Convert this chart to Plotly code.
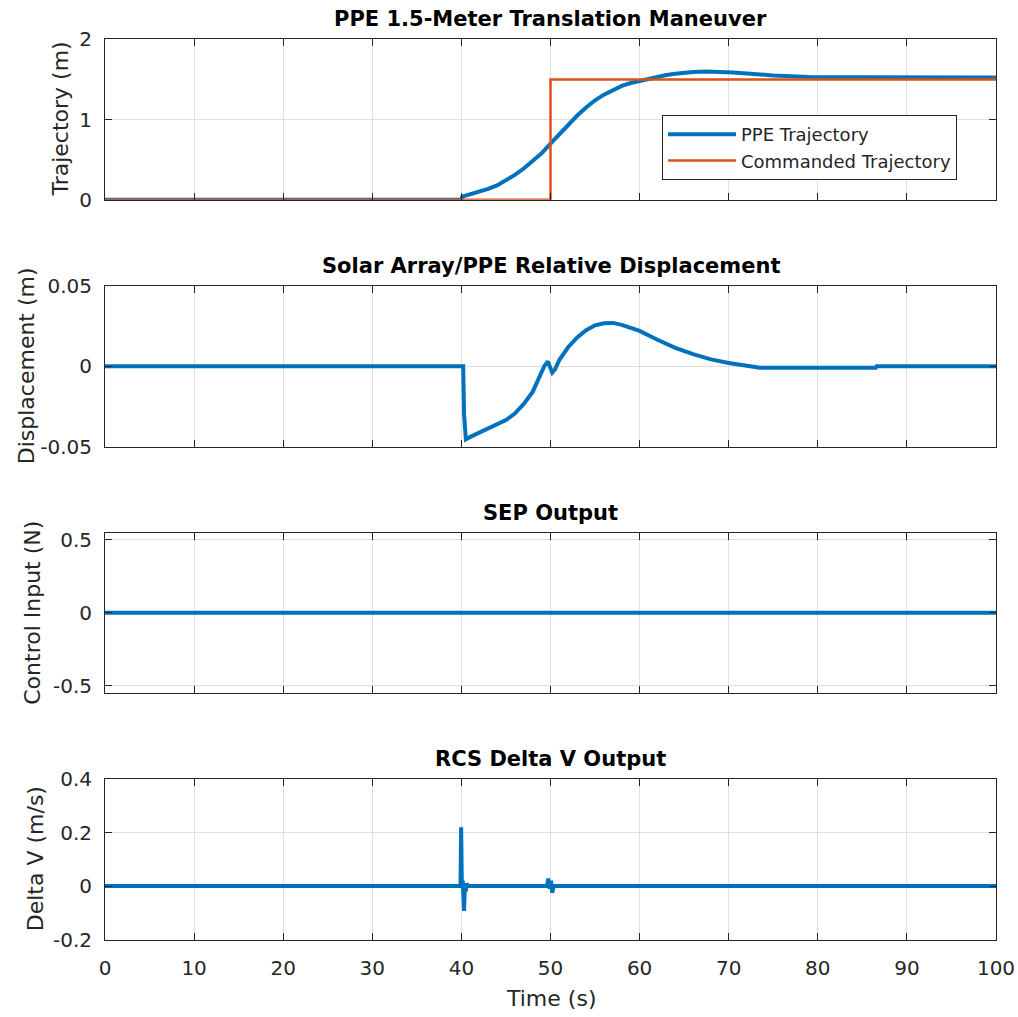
import plotly.graph_objects as go

# ---- data -------------------------------------------------------------
# PPE position during the 1.5 m translation (s, m)
ppe_time = [0, 40.0, 40.1, 41, 42, 43, 44, 45, 46, 47, 48, 49, 50, 51, 52, 53, 54, 55,
            56, 57, 58, 59, 60, 61, 62, 63, 64, 65, 66, 67.5, 69, 70.5, 72, 73.5, 75,
            77, 79, 85, 100]
ppe_pos = [0, 0, 0.04, 0.07, 0.10, 0.135, 0.18, 0.24, 0.31, 0.39, 0.48, 0.58, 0.70,
           0.82, 0.94, 1.05, 1.15, 1.24, 1.31, 1.37, 1.42, 1.455, 1.48, 1.51, 1.535,
           1.555, 1.57, 1.585, 1.593, 1.598, 1.595, 1.585, 1.575, 1.56, 1.55, 1.54,
           1.53, 1.527, 1.525]

# commanded step (s, m)
cmd_time = [0, 50, 50, 100]
cmd_pos = [0, 0, 1.5, 1.5]

# solar array relative displacement (s, m)
disp_time = [0, 40.2, 40.3, 40.5, 41, 42, 43, 44, 45, 46, 47, 48, 48.7, 49.3, 49.7,
             50.0, 50.2, 50.5, 51, 52, 53, 54, 55, 56, 57, 58, 59, 60, 62, 64, 66, 68,
             70, 72, 73.5, 86.5, 86.6, 100]
disp_val = [0, 0, -0.03, -0.0455, -0.044, -0.0415, -0.039, -0.0365, -0.0335, -0.0295,
            -0.0235, -0.016, -0.008, 0.0, 0.003, -0.002, -0.004, -0.002, 0.004, 0.012,
            0.018, 0.0225, 0.0255, 0.0268, 0.027, 0.0258, 0.024, 0.022, 0.0165, 0.0115,
            0.0075, 0.0043, 0.002, 0.0002, -0.001, -0.001, 0, 0]

# SEP thrust command (s, N)
sep_time = [0, 100]
sep_val = [0, 0]

# RCS delta-V pulses (s, m/s)
rcs_time = [0, 39.9, 39.97, 40.05, 40.15, 40.3, 40.4, 40.5, 40.6, 40.7,
            49.6, 49.75, 49.9, 50.05, 50.2, 50.35, 100]
rcs_val = [0, 0, 0.22, 0, 0.02, -0.093, 0.01, -0.02, 0.01, 0,
           0, 0.028, -0.01, 0.02, -0.025, 0, 0]

# axis ticks
time_ticks = [0, 10, 20, 30, 40, 50, 60, 70, 80, 90, 100]
time_labels = ["0", "10", "20", "30", "40", "50", "60", "70", "80", "90", "100"]
traj_ticks, traj_labels = [0, 1, 2], ["0", "1", "2"]
disp_ticks, disp_labels = [-0.05, 0, 0.05], ["-0.05", "0", "0.05"]
sep_ticks, sep_labels = [-0.5, 0, 0.5], ["-0.5", "0", "0.5"]
rcs_ticks, rcs_labels = [-0.2, 0, 0.2, 0.4], ["-0.2", "0", "0.2", "0.4"]

titles = ["PPE 1.5-Meter Translation Maneuver", "Solar Array/PPE Relative Displacement",
          "SEP Output", "RCS Delta V Output"]
ylabels = ["Trajectory (m)", "Displacement (m)", "Control Input (N)", "Delta V (m/s)"]

# ---- style ------------------------------------------------------------
BLUE, ORANGE = "#0072BD", "#D95319"
AX, GRID = "#262626", "#dfdfdf"
FONT = "DejaVu Sans"
W, H = 1018, 1017
X_LEFT, X_RIGHT = 105, 996
PANEL_TOPS = [39.3, 286, 532.5, 779]
PANEL_H = 160.5
YLABEL_X = [61, 26, 33, 35]

fig = go.Figure()
fig.add_trace(go.Scatter(x=ppe_time, y=ppe_pos, mode="lines", name="PPE Trajectory",
                         line=dict(color=BLUE, width=4), xaxis="x", yaxis="y"))
fig.add_trace(go.Scatter(x=cmd_time, y=cmd_pos, mode="lines", name="Commanded Trajectory",
                         line=dict(color=ORANGE, width=2.5), xaxis="x", yaxis="y"))
fig.add_trace(go.Scatter(x=disp_time, y=disp_val, mode="lines", showlegend=False,
                         line=dict(color=BLUE, width=4), xaxis="x2", yaxis="y2"))
fig.add_trace(go.Scatter(x=sep_time, y=sep_val, mode="lines", showlegend=False,
                         line=dict(color=BLUE, width=4), xaxis="x3", yaxis="y3"))
fig.add_trace(go.Scatter(x=rcs_time, y=rcs_val, mode="lines", showlegend=False,
                         line=dict(color=BLUE, width=4), xaxis="x4", yaxis="y4"))

y_ranges = [[0, 2], [-0.05, 0.05], [-0.55, 0.55], [-0.2, 0.4]]
y_ticks = [(traj_ticks, traj_labels), (disp_ticks, disp_labels),
           (sep_ticks, sep_labels), (rcs_ticks, rcs_labels)]

layout = {}
annotations = []
common = dict(ticks="inside", ticklen=7, tickwidth=1, tickcolor=AX, showline=True,
              linecolor=AX, linewidth=1, mirror="ticks", showgrid=True, gridcolor=GRID,
              gridwidth=1, zeroline=False, automargin=False,
              tickfont=dict(family=FONT, size=20, color=AX))
for i in range(4):
    sfx = "" if i == 0 else str(i + 1)
    top = PANEL_TOPS[i]
    bot = top + PANEL_H
    layout["xaxis" + sfx] = dict(domain=[X_LEFT / W, X_RIGHT / W], anchor="y" + sfx,
                                 range=[0, 100], tickvals=time_ticks, ticktext=time_labels,
                                 showticklabels=(i == 3), ticklabelstandoff=10, **common)
    layout["yaxis" + sfx] = dict(domain=[1 - bot / H, 1 - top / H], anchor="x" + sfx,
                                 range=y_ranges[i], tickvals=y_ticks[i][0],
                                 ticktext=y_ticks[i][1], ticklabelstandoff=8, **common)
    annotations.append(dict(text="<b>" + titles[i] + "</b>", xref="paper", yref="paper",
                            x=(X_LEFT + X_RIGHT) / 2 / W, y=1 - (top - 20) / H,
                            xanchor="center", yanchor="middle", showarrow=False,
                            font=dict(family=FONT, size=21, color="#000000")))
    annotations.append(dict(text=ylabels[i], xref="paper", yref="paper", textangle=-90,
                            x=YLABEL_X[i] / W, y=1 - (top + PANEL_H / 2) / H,
                            xanchor="center", yanchor="middle", showarrow=False,
                            font=dict(family=FONT, size=22, color=AX)))

annotations.append(dict(text="Time (s)", xref="paper", yref="paper",
                        x=(X_LEFT + X_RIGHT) / 2 / W, y=1 - 998 / H,
                        xanchor="center", yanchor="middle", showarrow=False,
                        font=dict(family=FONT, size=22, color=AX)))

fig.update_layout(
    width=W, height=H, autosize=False,
    margin=dict(l=0, r=0, t=0, b=0, autoexpand=False),
    paper_bgcolor="white", plot_bgcolor="white",
    annotations=annotations,
    legend=dict(x=957 / W, y=1 - 115 / H, xanchor="right", yanchor="top",
                bgcolor="white", bordercolor=AX, borderwidth=1, itemwidth=68,
                font=dict(family=FONT, size=18, color=AX)),
    **layout,
)

# let the figure fill the page edge to edge
fig.write_html("out.html",
               post_script="document.body.style.margin='0';"
                           "document.body.style.overflow='hidden';")
